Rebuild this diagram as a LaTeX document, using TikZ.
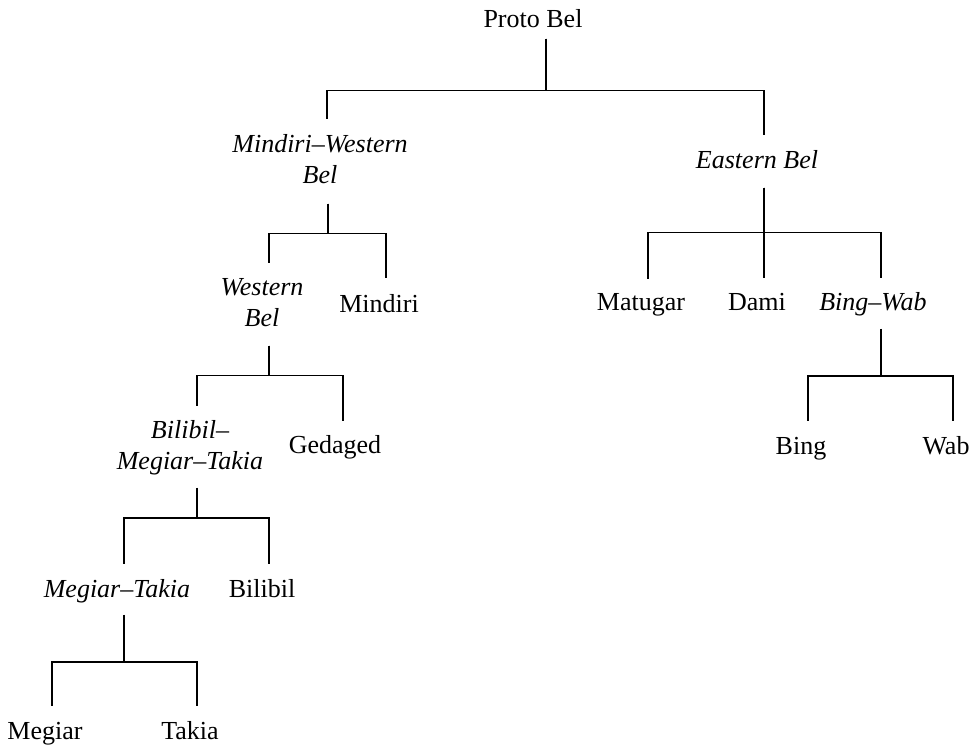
\documentclass[tikz,border=0pt]{standalone}
\usepackage{fontspec}
\setmainfont{Liberation Serif}
\usepackage{tikz}

\begin{document}
\begin{tikzpicture}[x={(0.5pt,0)},y={(0,-0.5pt)},line cap=butt,line join=miter,
    lang/.style={inner sep=0pt,anchor=base,font=\fontsize{13}{15.5}\selectfont},
    grp/.style={lang,align=center,font=\fontsize{13}{15.5}\selectfont\itshape},
    branch/.style={draw=black,line width=0.6pt}]
    \useasboundingbox (0,0) rectangle (970,746);

    % top
    \node[lang] (pb) at (533,27) {Proto Bel};
    \node[grp] (mwb) at (320,183) {Mindiri--Western\\Bel};
    \node[grp] (eb) at (757,168) {Eastern Bel};

    % western side
    \node[grp] (wb) at (262,326) {Western\\Bel};
    \node[lang] (mi) at (379,312) {Mindiri};
    \node[grp] (bmt) at (190,469) {Bilibil--\\Megiar--Takia};
    \node[lang] (ge) at (335,453) {Gedaged};
    \node[grp] (mt) at (117,597) {Megiar--Takia};
    \node[lang] (bi) at (262,597) {Bilibil};
    \node[lang] (me) at (45,739) {Megiar};
    \node[lang] (ta) at (190,739) {Takia};

    % eastern side
    \node[lang] (ma) at (641,310) {Matugar};
    \node[lang] (da) at (757,310) {Dami};
    \node[grp] (bw) at (873,310) {Bing--Wab};
    \node[lang] (bg) at (801,454) {Bing};
    \node[lang] (wa) at (946,454) {Wab};

    % branches
    \draw[branch] ([shift={(13,11)}]pb.south) -- ++(0,52) -| ([shift={(7,-15)}]mwb.north);
    \draw[branch] ([shift={(13,11)}]pb.south) -- ++(0,52) -| ([shift={(7,-15)}]eb.north);

    \draw[branch] ([shift={(8,20)}]mwb.south) -- ++(0,30) -| ([shift={(7,-15)}]wb.north);
    \draw[branch] ([shift={(8,20)}]mwb.south) -- ++(0,30) -| ([shift={(7,-16)}]mi.north);

    \draw[branch] ([shift={(7,19)}]wb.south) -- ++(0,30) -| ([shift={(7,-14)}]bmt.north);
    \draw[branch] ([shift={(7,19)}]wb.south) -- ++(0,30) -| ([shift={(8,-14)}]ge.north);

    \draw[branch] ([shift={(7,13)}]bmt.south) -- ++(0,30) -| ([shift={(7,-15)}]mt.north);
    \draw[branch] ([shift={(7,13)}]bmt.south) -- ++(0,30) -| ([shift={(7,-15)}]bi.north);

    \draw[branch] ([shift={(7,12)}]mt.south) -- ++(0,47) -| ([shift={(7,-15)}]me.north);
    \draw[branch] ([shift={(7,12)}]mt.south) -- ++(0,47) -| ([shift={(7,-15)}]ta.north);

    \draw[branch] ([shift={(7,19)}]eb.south) -- ++(0,45) -| ([shift={(7,-14)}]ma.north);
    \draw[branch] ([shift={(7,19)}]eb.south) -- ++(0,45) -| ([shift={(7,-14)}]da.north);
    \draw[branch] ([shift={(7,19)}]eb.south) -- ++(0,45) -| ([shift={(8,-14)}]bw.north);

    \draw[branch] ([shift={(8,13)}]bw.south) -- ++(0,47) -| ([shift={(7,-15)}]bg.north);
    \draw[branch] ([shift={(8,13)}]bw.south) -- ++(0,47) -| ([shift={(7,-15)}]wa.north);
\end{tikzpicture}
\end{document}
